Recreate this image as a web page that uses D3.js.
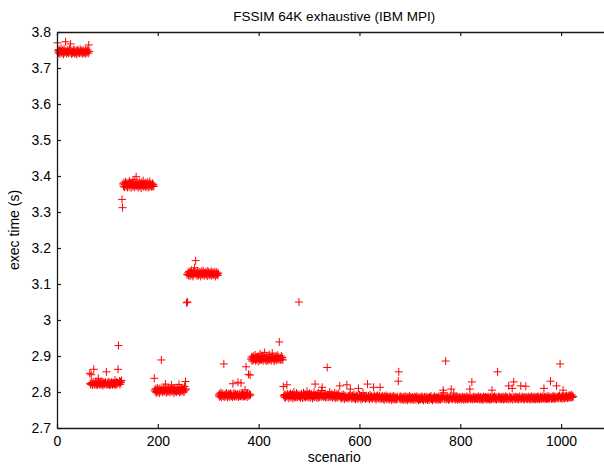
<!DOCTYPE html>
<html lang="en">
<head>
    <meta charset="UTF-8">
    <title>FSSIM 64K exhaustive (IBM MPI)</title>
    <style>
        body { margin: 0; background: #fff; }
        svg { display: block; font-family: "Liberation Sans", Arial, Helvetica, sans-serif; }
        .tick-label { font-size: 14px; fill: #000; }
        .axis-label { font-size: 14px; fill: #000; }
        .title { font-size: 13.5px; fill: #000; }
        .frame { fill: none; stroke: #1a1a1a; stroke-width: 1.3; }
        .mark { fill: none; stroke: #ff0000; stroke-width: 1; }
    </style>
</head>
<body>
    <svg width="604" height="466"></svg>
    <script src="https://d3js.org/d3.v7.min.js"></script>
    <script>
        // exec times in ms, one value per scenario, grouped by phase of the sweep
        const phaseA = [3770,3748,3742,3751,3745,3739,3747,3755,3744,3741,3749,3746,3738,3752,3743,3747,
            3773,3745,3740,3750,3744,3748,3741,3746,3753,3743,3767,3747,3739,3745,3742,3749,
            3744,3751,3740,3746,3743,3748,3738,3745,3750,3742,3747,3744,3741,3752,3746,3743,
            3748,3740,3745,3749,3742,3746,3744,3739,3751,3747,3743,3745,3750,3741,3764,3746];
        const phaseB = [2852,2824,2821,2848,2826,2819,2823,2827,2863,2822,2820,2825,2828,2821,2824,2819,
            2826,2838,2822,2825,2820,2827,2823,2821,2829,2824,2818,2826,2822,2825,2821,2827,
            2824,2856,2820,2823,2826,2822,2828,2819,2825,2821,2824,2827,2822,2820,2826,2823,
            2825,2821,2833,2824,2819,2827,2822,2826,2863,2929,2824,2830,2821,2828,2826,2832];
        const phaseC = [3335,3312,3378,3372,3381,3369,3376,3384,3371,3379,3374,3368,3382,3377,3370,3386,
            3375,3380,3367,3378,3373,3383,3371,3376,3390,3369,3379,3374,3398,3372,3381,3375,
            3368,3377,3384,3371,3376,3379,3366,3382,3373,3375,3387,3370,3378,3374,3381,3369,
            3376,3372,3383,3375,3368,3379,3371,3385,3374,3377,3370,3373,3380,3372,3376,3371];
        const phaseD = [2838,2806,2801,2809,2798,2804,2811,2800,2807,2803,2797,2810,2805,2802,2889,2808,
            2799,2806,2803,2812,2801,2807,2822,2804,2798,2809,2805,2800,2811,2803,2806,2799,
            2808,2804,2820,2801,2807,2803,2810,2797,2805,2809,2802,2806,2800,2812,2804,2807,
            2803,2821,2799,2808,2805,2801,2810,2804,2806,2802,2809,2800,2815,2805,2829,2808];
        const phaseE = [3048,3126,3050,3131,3124,3135,3129,3122,3133,3127,3138,3125,3130,3121,3134,3128,
            3145,3132,3165,3126,3131,3123,3136,3129,3124,3133,3127,3130,3121,3135,3128,3132,
            3125,3137,3129,3123,3131,3127,3134,3126,3130,3122,3136,3128,3133,3124,3129,3131,
            3126,3135,3123,3128,3132,3125,3130,3127,3134,3121,3129,3126,3133,3128,3124,3130];
        const phaseF = [2792,2787,2795,2789,2798,2785,2793,2790,2796,2788,2878,2791,2786,2794,2789,2797,
            2792,2785,2790,2795,2788,2793,2787,2796,2791,2789,2794,2786,2823,2790,2797,2788,
            2792,2795,2787,2791,2789,2794,2827,2786,2793,2790,2796,2788,2825,2792,2789,2795,
            2787,2791,2794,2788,2806,2790,2870,2793,2786,2797,2791,2849,2789,2794,2847,2792];
        const phaseG = [2891,2897,2886,2894,2900,2889,2895,2892,2903,2887,2896,2890,2898,2893,2885,2899,
            2894,2888,2906,2891,2896,2889,2901,2893,2887,2897,2892,2910,2890,2895,2886,2899,
            2893,2888,2896,2891,2904,2889,2894,2897,2887,2892,2908,2895,2890,2898,2886,2893,
            2896,2891,2899,2888,2894,2902,2890,2897,2939,2892,2889,2895,2900,2891,2896,2889];
        const phaseH = [2815,2790,2786,2793,2784,2791,2788,2820,2795,2787,2790,2783,2792,2789,2796,2785,
            2791,2787,2794,2782,2789,2800,2786,2792,2788,2784,2797,2790,2786,2793,2789,3050,
            2787,2792,2784,2790,2795,2788,2783,2791,2798,2786,2789,2794,2785,2791,2788,2802,
            2790,2785,2793,2788,2796,2784,2791,2787,2794,2789,2782,2792,2788,2799,2786,2822,
            2792,2788,2785,2795,2790,2783,2797,2789,2786,2793,2791,2787,2804,2813,2788,2794,
            2786,2791,2789,2796,2784,2790,2787,2868,2793,2785,2792,2788,2800,2786,2791,2789,
            2795,2787,2784,2792,2789,2786,2798,2790,2783,2788,2794,2785,2791,2787,2796,2789,
            2817,2785,2788,2782,2791,2786,2784,2793,2787,2780,2790,2785,2788,2783,2820,2786,
            2784,2789,2782,2787,2791,2808,2785,2788,2781,2790,2784,2786,2793,2783,2787,2780,
            2786,2790,2783,2788,2781,2810,2785,2792,2784,2787,2779,2789,2785,2782,2798,2786,
            2783,2788,2785,2781,2790,2784,2787,2822,2782,2789,2785,2780,2792,2786,2783,2788,
            2785,2781,2787,2813,2784,2790,2782,2786,2779,2788,2784,2791,2783,2786,2781,2789,
            2813,2784,2780,2787,2783,2789,2781,2785,2778,2788,2782,2786,2790,2780,2784,2787,
            2781,2786,2779,2784,2788,2782,2785,2777,2787,2783,2780,2789,2784,2781,2786,2779,
            2784,2780,2787,2782,2830,2856,2785,2781,2788,2779,2783,2786,2780,2784,2778,2787,
            2782,2785,2779,2788,2781,2784,2777,2786,2783,2780,2789,2782,2785,2778,2784,2781,
            2786,2780,2783,2778,2787,2782,2785,2779,2784,2788,2781,2783,2777,2786,2780,2784,
            2779,2785,2782,2788,2780,2784,2777,2783,2786,2781,2779,2787,2782,2785,2778,2784,
            2783,2778,2786,2781,2784,2789,2780,2782,2777,2785,2783,2780,2788,2781,2784,2779,
            2785,2781,2784,2778,2787,2782,2780,2786,2779,2783,2788,2781,2784,2805,2798,2780,
            2782,2786,2886,2779,2784,2781,2787,2783,2778,2785,2780,2784,2788,2808,2781,2783,
            2780,2785,2797,2782,2786,2779,2784,2781,2787,2783,2778,2785,2782,2780,2786,2783,
            2784,2779,2782,2787,2781,2785,2778,2783,2786,2780,2784,2782,2788,2779,2783,2785,
            2781,2784,2808,2780,2786,2782,2828,2779,2785,2783,2787,2780,2784,2781,2786,2782,
            2785,2780,2783,2788,2781,2784,2779,2786,2782,2780,2785,2783,2778,2787,2781,2784,
            2782,2786,2780,2784,2779,2783,2787,2781,2785,2782,2778,2786,2783,2780,2805,2784,
            2781,2785,2782,2788,2780,2783,2786,2779,2784,2856,2781,2787,2782,2785,2780,2783,
            2786,2780,2784,2782,2787,2779,2785,2781,2783,2788,2780,2784,2782,2786,2779,2817,
            2783,2787,2780,2785,2782,2784,2810,2779,2786,2828,2781,2784,2787,2780,2783,2785,
            2781,2786,2783,2779,2784,2788,2782,2817,2780,2785,2783,2787,2781,2784,2779,2786,
            2784,2816,2781,2786,2780,2783,2787,2782,2785,2779,2784,2781,2788,2783,2780,2786,
            2782,2785,2780,2787,2783,2779,2784,2786,2781,2788,2782,2785,2780,2784,2787,2781,
            2785,2781,2784,2788,2782,2810,2786,2780,2783,2787,2781,2785,2782,2789,2784,2780,
            2783,2787,2830,2784,2781,2786,2782,2789,2785,2780,2784,2788,2782,2786,2817,2783,
            2786,2782,2788,2784,2790,2878,2783,2787,2785,2781,2789,2805,2784,2788,2782,2786,
            2788,2784,2790,2786,2783,2789,2785,2791,2787,2784,2790,2786,2792,2785,2788,2787];

        const xTicks = [0, 200, 400, 600, 800, 1000];
        const yTicks = [2.7, 2.8, 2.9, 3, 3.1, 3.2, 3.3, 3.4, 3.5, 3.6, 3.7, 3.8];

        const execMs = [].concat(phaseA, phaseB, phaseC, phaseD, phaseE, phaseF, phaseG, phaseH);
        const points = execMs.map((v, i) => ({scenario: i + 1, time: v / 1000}));

        const svg = d3.select("svg"),
            margin = {top: 32, left: 57, bottom: 38},
            plotW = 554.5,
            plotH = +svg.attr("height") - margin.top - margin.bottom,
            g = svg.append("g").attr("transform", `translate(${margin.left},${margin.top})`);

        const x = d3.scaleLinear().domain([0, 1100]).range([0, plotW]);
        const y = d3.scaleLinear().domain([2.7, 3.8]).range([plotH, 0]);

        // markers first, frame on top
        const arm = 4;
        g.append("g").selectAll("path")
            .data(points)
            .join("path")
            .attr("class", "mark")
            .attr("d", d => {
                const px = x(d.scenario), py = y(d.time);
                return `M${px - arm},${py}H${px + arm}M${px},${py - arm}V${py + arm}`;
            });

        const tickLen = 4;
        const axBottom = g.append("g").attr("transform", `translate(0,${plotH})`)
            .call(d3.axisBottom(x).tickValues(xTicks).tickSizeInner(-tickLen).tickSizeOuter(0).tickPadding(8).tickFormat(d3.format("d")));
        const axTop = g.append("g")
            .call(d3.axisTop(x).tickValues(xTicks).tickSizeInner(-tickLen).tickSizeOuter(0).tickFormat(""));
        const axLeft = g.append("g")
            .call(d3.axisLeft(y).tickValues(yTicks).tickSizeInner(-tickLen).tickSizeOuter(0).tickPadding(6).tickFormat(d3.format("")));
        const axRight = g.append("g").attr("transform", `translate(${plotW},0)`)
            .call(d3.axisRight(y).tickValues(yTicks).tickSizeInner(-tickLen).tickSizeOuter(0).tickFormat(""));

        [axBottom, axTop, axLeft, axRight].forEach(a => {
            a.select(".domain").attr("class", "domain frame");
            a.selectAll(".tick line").attr("stroke", "#1a1a1a").attr("stroke-width", 1.2);
            a.selectAll(".tick text").attr("class", "tick-label");
            a.attr("font-size", null).attr("font-family", null);
        });

        svg.append("text")
            .attr("class", "title")
            .attr("x", margin.left + x(550))
            .attr("y", 21)
            .attr("text-anchor", "middle")
            .text("FSSIM 64K exhaustive (IBM MPI)");

        svg.append("text")
            .attr("class", "axis-label")
            .attr("x", margin.left + x(550))
            .attr("y", 462)
            .attr("text-anchor", "middle")
            .text("scenario");

        svg.append("text")
            .attr("class", "axis-label")
            .attr("transform", `translate(19,${margin.top + plotH / 2}) rotate(-90)`)
            .attr("text-anchor", "middle")
            .text("exec time (s)");
    </script>
</body>
</html>
